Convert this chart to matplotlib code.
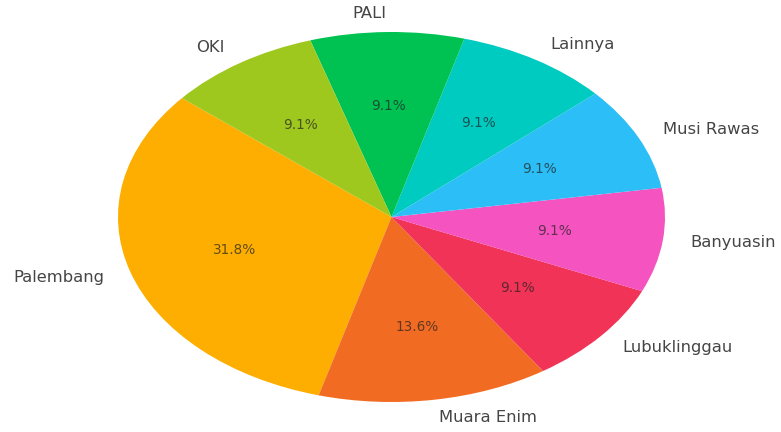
import matplotlib
matplotlib.use("Agg")
import matplotlib.pyplot as plt

plt.rcParams["font.family"] = ["DejaVu Sans"]

labels = ["Palembang", "Muara Enim", "Lubuklinggau", "Banyuasin",
          "Musi Rawas", "Lainnya", "PALI", "OKI"]
counts = [7, 3, 2, 2, 2, 2, 2, 2]
colors = ["#FDAE00", "#F26B23", "#F13357", "#F553C0",
          "#2CBEF6", "#00CBC1", "#00C253", "#9FC81F"]

W, H = 781, 432
fig = plt.figure(figsize=(W / 100, H / 100), dpi=100)
ax = fig.add_axes([118 / W, 1 - 402 / H, (665 - 118) / W, (402 - 32) / H])

wedges, texts, autotexts = ax.pie(
    counts, labels=labels, colors=colors, autopct="%1.1f%%",
    startangle=140, counterclock=True, labeldistance=1.1, pctdistance=0.6,
    textprops=dict(fontsize=11.8, color="#454545"),
    wedgeprops=dict(linewidth=0))
for t in autotexts:
    t.set_color("#222222")
    t.set_alpha(0.7)
    t.set_fontsize(9.8)
ax.set_aspect("auto")
ax.set_xlim(-1, 1)
ax.set_ylim(-1, 1)
fig.savefig("out.png", dpi=100, facecolor="white")
